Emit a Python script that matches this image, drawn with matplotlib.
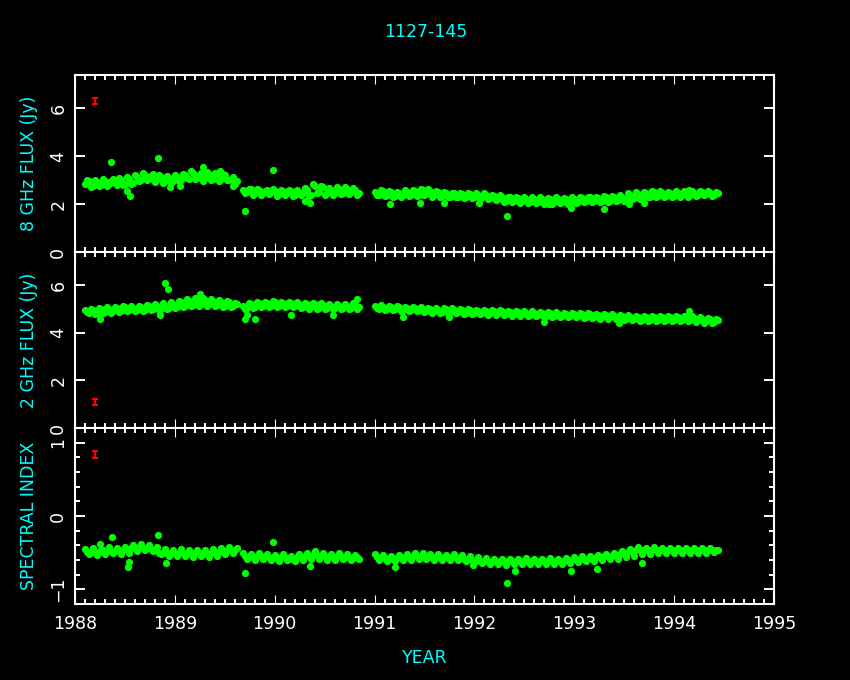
import numpy as np
import matplotlib
matplotlib.use("Agg")
import matplotlib.pyplot as plt
from matplotlib.ticker import MultipleLocator

# ---------------- data ----------------
title = "1127-145"
seg_ranges = [(1988.10, 1989.62), (1989.68, 1990.84), (1991.00, 1994.44)]

# 8 GHz flux: readings at the grid times (a) and at the mid times (b)
flux8_seg1 = [2.85, 2.95, 2.78, 2.92, 2.80, 2.95, 2.85, 3.05, 2.82, 3.00, 2.85, 3.05, 2.90,
              3.15, 3.00, 3.20, 3.05, 3.25, 3.05, 3.15, 2.95, 3.10, 2.95, 3.15, 3.00, 3.20,
              3.05, 3.30, 3.10, 3.30, 3.10, 3.25, 3.05, 3.25, 3.05, 3.20, 3.00, 3.15, 2.95]
flux8_seg1b = [3.00, 2.72, 3.02, 2.75, 3.05, 2.78, 2.95, 2.88, 3.10, 2.80, 3.12, 2.85, 3.22,
               2.95, 3.30, 3.00, 3.18, 2.92, 3.20, 2.88, 3.18, 2.90, 3.22, 2.98, 3.28, 3.10,
               3.38, 3.05, 3.22, 2.98, 3.35, 3.00, 3.30, 2.98, 3.25, 3.02, 3.05, 2.85]
flux8_seg2 = [2.60, 2.50, 2.62, 2.48, 2.58, 2.45, 2.60, 2.50, 2.55, 2.42, 2.55, 2.45, 2.55,
              2.40, 2.52, 2.45, 2.60, 2.40, 2.75, 2.50, 2.70, 2.45, 2.60, 2.45, 2.62, 2.48,
              2.65, 2.50, 2.60, 2.45]
flux8_seg2b = [2.45, 2.65, 2.40, 2.62, 2.38, 2.55, 2.42, 2.62, 2.35, 2.58, 2.38, 2.60, 2.35,
               2.58, 2.38, 2.68, 2.35, 2.85, 2.45, 2.78, 2.40, 2.68, 2.40, 2.70, 2.42, 2.72,
               2.42, 2.68, 2.40]
flux8_seg3 = [2.52, 2.40, 2.55, 2.38, 2.50, 2.35, 2.48, 2.38, 2.52, 2.40,
              2.55, 2.40, 2.60, 2.42, 2.55, 2.38, 2.50, 2.35, 2.45, 2.32,
              2.45, 2.32, 2.42, 2.30, 2.42, 2.30, 2.40, 2.28, 2.38, 2.25,
              2.35, 2.22, 2.30, 2.15, 2.28, 2.12, 2.25, 2.12, 2.22, 2.10,
              2.22, 2.10, 2.22, 2.08, 2.20, 2.08, 2.22, 2.10, 2.20, 2.08,
              2.22, 2.10, 2.25, 2.12, 2.28, 2.12, 2.25, 2.15, 2.28, 2.15,
              2.30, 2.18, 2.32, 2.20, 2.38, 2.25, 2.42, 2.28, 2.45, 2.32,
              2.50, 2.35, 2.48, 2.35, 2.45, 2.35, 2.48, 2.38, 2.50, 2.38,
              2.48, 2.40, 2.50, 2.42, 2.48, 2.40, 2.45]
flux8_seg3b = [2.38, 2.58, 2.35, 2.55, 2.30, 2.52, 2.32, 2.58, 2.35, 2.60,
               2.35, 2.65, 2.38, 2.62, 2.32, 2.55, 2.30, 2.50, 2.28, 2.48,
               2.28, 2.48, 2.25, 2.48, 2.25, 2.45, 2.22, 2.45, 2.20, 2.40,
               2.18, 2.38, 2.10, 2.32, 2.08, 2.30, 2.05, 2.28, 2.05, 2.28,
               2.05, 2.28, 2.02, 2.26, 2.02, 2.28, 2.05, 2.26, 2.02, 2.28,
               2.05, 2.30, 2.08, 2.32, 2.08, 2.30, 2.10, 2.35, 2.10, 2.36,
               2.12, 2.38, 2.15, 2.45, 2.20, 2.50, 2.22, 2.52, 2.28, 2.55,
               2.30, 2.55, 2.30, 2.52, 2.32, 2.55, 2.32, 2.56, 2.32, 2.55,
               2.35, 2.55, 2.38, 2.55, 2.36, 2.50]
flux8_out_t = [1988.36, 1988.55, 1988.52, 1988.83, 1988.95, 1989.05, 1989.28, 1989.45,
               1989.58, 1989.70, 1989.98, 1990.35, 1990.30, 1991.15, 1991.45, 1991.70,
               1992.05, 1992.33, 1992.75, 1992.97, 1993.30, 1993.55, 1993.70, 1994.15]
flux8_out_v = [3.75, 2.35, 2.55, 3.95, 2.70, 2.75, 3.55, 3.40,
               2.75, 1.70, 3.41, 2.05, 2.15, 2.00, 2.05, 2.05,
               2.05, 1.50, 2.00, 1.85, 1.80, 2.00, 2.05, 2.60]

# 2 GHz flux
flux2_seg1 = [4.95, 4.82, 4.98, 4.85, 5.00, 4.88, 5.02, 4.90, 5.05, 4.92, 5.08, 4.95, 5.05,
              4.95, 5.10, 4.98, 5.12, 5.00, 5.15, 5.02, 5.18, 5.05, 5.22, 5.10, 5.28, 5.12,
              5.35, 5.18, 5.40, 5.22, 5.38, 5.20, 5.35, 5.18, 5.30, 5.15, 5.28, 5.12, 5.20]
flux2_seg1b = [4.88, 5.02, 4.80, 5.05, 4.82, 5.08, 4.85, 5.10, 4.88, 5.12, 4.90, 5.12, 4.90,
               5.15, 4.92, 5.18, 4.95, 5.22, 4.98, 5.25, 5.00, 5.28, 5.05, 5.35, 5.08, 5.42,
               5.12, 5.45, 5.15, 5.45, 5.12, 5.42, 5.12, 5.38, 5.10, 5.35, 5.08, 5.25]
flux2_seg2 = [5.15, 5.05, 5.20, 5.10, 5.25, 5.12, 5.25, 5.15, 5.28, 5.15, 5.25, 5.12, 5.25,
              5.12, 5.22, 5.10, 5.20, 5.08, 5.20, 5.05, 5.18, 5.05, 5.15, 5.05, 5.15, 5.05,
              5.15, 5.05, 5.20, 5.08]
flux2_seg2b = [5.00, 5.25, 5.05, 5.30, 5.08, 5.30, 5.10, 5.32, 5.10, 5.30, 5.08, 5.30, 5.08,
               5.28, 5.05, 5.26, 5.02, 5.25, 5.00, 5.24, 5.00, 5.22, 5.00, 5.22, 5.00, 5.22,
               5.00, 5.25, 5.02]
flux2_seg3 = [5.12, 5.02, 5.10, 5.00, 5.10, 5.00, 5.08, 4.98, 5.05, 4.95,
              5.05, 4.95, 5.02, 4.92, 5.00, 4.90, 4.98, 4.88, 5.00, 4.88,
              4.98, 4.88, 4.95, 4.85, 4.95, 4.85, 4.92, 4.82, 4.92, 4.82,
              4.92, 4.82, 4.90, 4.80, 4.88, 4.78, 4.88, 4.78, 4.85, 4.75,
              4.85, 4.75, 4.82, 4.72, 4.82, 4.72, 4.80, 4.72, 4.80, 4.70,
              4.80, 4.70, 4.78, 4.68, 4.78, 4.68, 4.75, 4.65, 4.75, 4.65,
              4.72, 4.62, 4.70, 4.60, 4.68, 4.58, 4.65, 4.55, 4.65, 4.55,
              4.65, 4.55, 4.65, 4.55, 4.65, 4.55, 4.65, 4.55, 4.68, 4.55,
              4.62, 4.52, 4.60, 4.48, 4.58, 4.45, 4.52]
flux2_seg3b = [5.05, 5.16, 4.95, 5.15, 4.95, 5.12, 4.92, 5.10, 4.90, 5.10,
               4.90, 5.08, 4.88, 5.05, 4.85, 5.05, 4.83, 5.04, 4.83, 5.03,
               4.82, 5.00, 4.80, 5.00, 4.80, 4.98, 4.78, 4.97, 4.77, 4.96,
               4.77, 4.95, 4.75, 4.93, 4.73, 4.92, 4.72, 4.90, 4.70, 4.90,
               4.70, 4.88, 4.68, 4.87, 4.67, 4.86, 4.66, 4.85, 4.65, 4.85,
               4.65, 4.83, 4.63, 4.82, 4.62, 4.80, 4.60, 4.80, 4.60, 4.78,
               4.57, 4.76, 4.55, 4.74, 4.53, 4.72, 4.50, 4.70, 4.50, 4.70,
               4.50, 4.70, 4.50, 4.70, 4.50, 4.70, 4.50, 4.70, 4.50, 4.72,
               4.47, 4.66, 4.43, 4.64, 4.40, 4.60]
flux2_out_t = [1988.25, 1988.90, 1988.93, 1989.25, 1988.85, 1989.70, 1989.80, 1989.72,
               1990.16, 1990.58, 1990.82, 1991.28, 1991.75, 1992.70, 1993.45, 1994.15]
flux2_out_v = [4.60, 6.10, 5.85, 5.65, 4.75, 4.59, 4.59, 4.75,
               4.76, 4.76, 5.43, 4.68, 4.65, 4.45, 4.40, 4.90]

# spectral index
spix_seg1 = [-0.45, -0.52, -0.44, -0.53, -0.46, -0.52, -0.42, -0.50, -0.44, -0.52, -0.42,
             -0.50, -0.40, -0.48, -0.38, -0.46, -0.40, -0.48, -0.42, -0.52, -0.45, -0.55,
             -0.46, -0.55, -0.45, -0.55, -0.47, -0.56, -0.46, -0.55, -0.47, -0.56, -0.45,
             -0.54, -0.44, -0.52, -0.42, -0.50, -0.44]
spix_seg1b = [-0.485, -0.485, -0.49, -0.49, -0.47, -0.47, -0.48, -0.48, -0.47, -0.46,
              -0.45, -0.44, -0.43, -0.42, -0.43, -0.44, -0.45, -0.47, -0.50, -0.50,
              -0.505, -0.505, -0.505, -0.50, -0.51, -0.515, -0.51, -0.505, -0.51, -0.515,
              -0.505, -0.50, -0.495, -0.49, -0.48, -0.47, -0.46, -0.47]
spix_seg2 = [-0.50, -0.58, -0.52, -0.60, -0.50, -0.58, -0.52, -0.60, -0.53, -0.61, -0.52,
             -0.60, -0.54, -0.62, -0.52, -0.60, -0.50, -0.58, -0.48, -0.58, -0.50, -0.60,
             -0.52, -0.60, -0.51, -0.58, -0.52, -0.60, -0.53, -0.59]
spix_seg2b = [-0.54, -0.56, -0.56, -0.55, -0.54, -0.55, -0.56, -0.57, -0.57, -0.56,
              -0.56, -0.58, -0.58, -0.56, -0.56, -0.55, -0.54, -0.53, -0.53, -0.54,
              -0.55, -0.56, -0.56, -0.55, -0.55, -0.56, -0.56, -0.57, -0.56]
spix_seg3 = [-0.52, -0.60, -0.53, -0.61, -0.54, -0.62, -0.53, -0.60, -0.52, -0.60,
             -0.50, -0.58, -0.51, -0.59, -0.52, -0.60, -0.52, -0.60, -0.53, -0.60,
             -0.52, -0.60, -0.53, -0.61, -0.55, -0.63, -0.56, -0.64, -0.57, -0.65,
             -0.58, -0.66, -0.58, -0.67, -0.58, -0.66, -0.58, -0.66, -0.57, -0.65,
             -0.58, -0.66, -0.58, -0.66, -0.57, -0.65, -0.58, -0.66, -0.57, -0.64,
             -0.56, -0.63, -0.55, -0.62, -0.55, -0.62, -0.53, -0.60, -0.52, -0.59,
             -0.50, -0.58, -0.48, -0.56, -0.45, -0.54, -0.42, -0.52, -0.43, -0.52,
             -0.42, -0.50, -0.43, -0.50, -0.44, -0.51, -0.44, -0.50, -0.43, -0.50,
             -0.44, -0.50, -0.44, -0.50, -0.43, -0.49, -0.46]
spix_seg3b = [-0.56, -0.57, -0.57, -0.58, -0.58, -0.57, -0.56, -0.56, -0.56, -0.55,
              -0.54, -0.55, -0.55, -0.56, -0.56, -0.56, -0.56, -0.57, -0.56, -0.56,
              -0.56, -0.57, -0.58, -0.59, -0.60, -0.61, -0.61, -0.62, -0.62, -0.63,
              -0.62, -0.63, -0.62, -0.62, -0.62, -0.62, -0.62, -0.62, -0.61, -0.62,
              -0.62, -0.62, -0.62, -0.61, -0.61, -0.62, -0.62, -0.61, -0.60, -0.60,
              -0.59, -0.58, -0.58, -0.58, -0.57, -0.56, -0.56, -0.55, -0.55, -0.54,
              -0.53, -0.52, -0.50, -0.49, -0.48, -0.47, -0.47, -0.47, -0.47, -0.46,
              -0.46, -0.46, -0.46, -0.47, -0.47, -0.47, -0.47, -0.46, -0.46, -0.47,
              -0.47, -0.47, -0.47, -0.46, -0.46, -0.47]
spix_out_t = [1988.37, 1988.25, 1988.53, 1988.54, 1988.83, 1988.91, 1989.70, 1989.98,
              1990.35, 1991.20, 1991.99, 1992.33, 1992.41, 1992.97, 1993.23, 1993.68]
spix_out_v = [-0.29, -0.38, -0.69, -0.63, -0.26, -0.64, -0.78, -0.35,
              -0.68, -0.70, -0.67, -0.91, -0.75, -0.75, -0.72, -0.64]

# representative error bars (red)
err_t = 1988.2
err_vals = [6.3, 1.1, 0.84]
err_sizes = [0.13, 0.12, 0.045]

panel_ylabels = ["8 GHz FLUX (Jy)", "2 GHz FLUX (Jy)", "SPECTRAL INDEX"]
panel_ylims = [(0, 7.4), (0, 7.4), (-1.2, 1.2)]
x_range = (1988, 1995)

# ---------------- figure ----------------
W, H = 850, 680
fig = plt.figure(figsize=(W / 100, H / 100), dpi=100, facecolor="black")

GREEN = "#00ff00"
CYAN = "#00ffff"
left, right = 75 / W, 774 / W
edges = [75, 252, 428, 604]

series = [
    ([flux8_seg1, flux8_seg2, flux8_seg3], [flux8_seg1b, flux8_seg2b, flux8_seg3b],
     flux8_out_t, flux8_out_v),
    ([flux2_seg1, flux2_seg2, flux2_seg3], [flux2_seg1b, flux2_seg2b, flux2_seg3b],
     flux2_out_t, flux2_out_v),
    ([spix_seg1, spix_seg2, spix_seg3], [spix_seg1b, spix_seg2b, spix_seg3b],
     spix_out_t, spix_out_v),
]

for i in range(3):
    top_px, bot_px = edges[i], edges[i + 1]
    ax = fig.add_axes([left, 1 - bot_px / H, right - left, (bot_px - top_px) / H])
    ax.set_facecolor("black")
    segs_a, segs_b, out_t, out_v = series[i]
    for (t0, t1), va, vb in zip(seg_ranges, segs_a, segs_b):
        ta = np.linspace(t0, t1, len(va))
        tb = np.linspace(t0 + 0.02, t1 - 0.02, len(vb))
        ax.plot(ta, va, "o", color=GREEN, ms=5.2, mec="none", zorder=3)
        ax.plot(tb, vb, "o", color=GREEN, ms=5.2, mec="none", zorder=3)
    ax.plot(out_t, out_v, "o", color=GREEN, ms=5.2, mec="none", zorder=3)
    ax.errorbar([err_t], [err_vals[i]], yerr=[err_sizes[i]], fmt="none",
                ecolor="#ff0000", elinewidth=1.5, capsize=2.5, capthick=1.5, zorder=4)

    ax.set_xlim(*x_range)
    ax.set_ylim(*panel_ylims[i])
    for s in ax.spines.values():
        s.set_color("white")
        s.set_linewidth(1.5)
    ax.xaxis.set_major_locator(MultipleLocator(1))
    ax.xaxis.set_minor_locator(MultipleLocator(0.1))
    if i < 2:
        ax.yaxis.set_major_locator(MultipleLocator(2))
    else:
        ax.yaxis.set_major_locator(MultipleLocator(1))
        ax.yaxis.set_minor_locator(MultipleLocator(0.2))
    ax.tick_params(which="both", direction="in", top=True, right=True,
                   colors="white", labelcolor="white", labelsize=12.5)
    ax.tick_params(axis="x", which="major", length=6.5, width=0.8, pad=8)
    ax.tick_params(axis="x", which="minor", length=3.5, width=1.4)
    ax.tick_params(axis="y", which="major", length=7, width=1.4, pad=5.5,
                   labelrotation=90)
    ax.tick_params(axis="y", which="minor", length=3.5, width=1.4)
    for lab in ax.get_yticklabels():
        lab.set_va("center")
    if i < 2:
        ax.tick_params(axis="x", labelbottom=False)
    fig.text(29 / W, 1 - (top_px + bot_px) / 2 / H, panel_ylabels[i], color=CYAN,
             rotation=90, ha="center", va="center", fontsize=12.5)

fig.text(426 / W, 1 - 32 / H, title, color=CYAN, ha="center", va="center", fontsize=12.5)
fig.text(425 / W, 1 - 658 / H, "YEAR", color=CYAN, ha="center", va="center", fontsize=12.5)

fig.savefig("out.png", dpi=100, facecolor="black")
